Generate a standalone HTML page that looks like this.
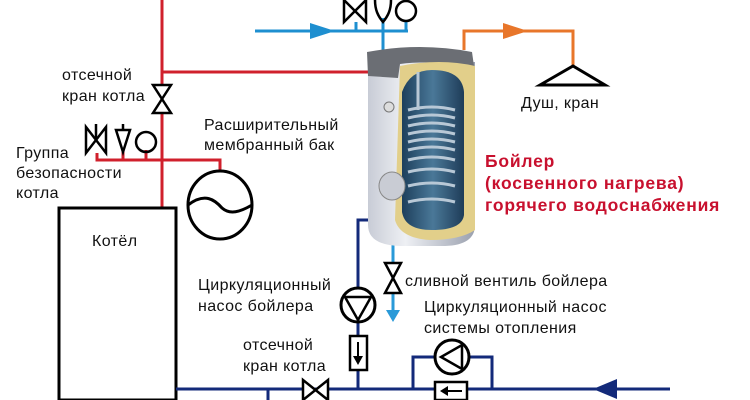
<!DOCTYPE html>
<html><head><meta charset="utf-8"><style>
html,body{margin:0;padding:0;background:#fff;}
svg{display:block;}
text{font-family:"Liberation Sans","DejaVu Sans",sans-serif;font-size:16px;letter-spacing:0.4px;fill:#111;}
.r{fill:#c8102e;font-weight:bold;font-size:17.5px;letter-spacing:0.8px;}
</style></head><body>
<svg width="750" height="400" viewBox="0 0 750 400" xmlns="http://www.w3.org/2000/svg">
<defs>
<linearGradient id="body" x1="0" x2="1"><stop offset="0" stop-color="#c8ccd6"/><stop offset="0.35" stop-color="#eef0f4"/><stop offset="1" stop-color="#9aa0ae"/></linearGradient>
<linearGradient id="tank" x1="0" x2="1"><stop offset="0" stop-color="#1d3f5c"/><stop offset="0.5" stop-color="#4a7898"/><stop offset="1" stop-color="#1e3c58"/></linearGradient>
</defs>
<g stroke="#d0202c" stroke-width="3" fill="none">
<line x1="162" y1="0" x2="162" y2="208"/>
<line x1="162" y1="72" x2="370" y2="72"/>
<polyline points="97,153 97,160 220,160 220,170"/>
<line x1="123" y1="150" x2="123" y2="160"/>
<line x1="146" y1="150" x2="146" y2="160"/>
</g>
<polygon points="153,85 171,85 153,113 171,113" fill="#fff" stroke="#000" stroke-width="2.5"/>
<g stroke="#000" stroke-width="2.5" fill="none">
<polygon points="86,127 86,153 106,127 106,153" fill="#fff"/>
<line x1="96" y1="124" x2="96" y2="140"/>
<path d="M116,130 L130,130 L123,152 Z"/><line x1="123" y1="124" x2="123" y2="130"/>
<circle cx="146" cy="142" r="10"/>
</g>
<g stroke="#000" stroke-width="3" fill="#fff">
<ellipse cx="220" cy="205" rx="32" ry="34"/>
<path d="M188,205 C205,192 215,200 222,208 C230,215 240,212 252,205" fill="none"/>
</g>
<rect x="59" y="208" width="117" height="192" fill="#fff" stroke="#000" stroke-width="3"/>
<text x="92" y="246">Котёл</text>
<g stroke="#1e8fd0" stroke-width="3" fill="none">
<line x1="255" y1="31" x2="408" y2="31"/>
<line x1="383" y1="18" x2="383" y2="50"/>
<line x1="356" y1="22" x2="356" y2="31"/>
<line x1="406" y1="22" x2="406" y2="31"/>
</g>
<polygon points="310,23 335,31 310,39" fill="#1e8fd0"/>
<g stroke="#000" stroke-width="2.5" fill="none">
<polygon points="344,0 344,22 366,0 366,22" fill="#fff"/>
<path d="M375,0 C375,10 378,16 383,22 C388,16 391,10 391,0"/>
<circle cx="406" cy="11" r="10"/>
</g>
<polyline points="464,50 464,31 573,31 573,66" stroke="#e8762a" stroke-width="3" fill="none"/>
<polygon points="503,23 528,31 503,39" fill="#e8762a"/>
<polygon points="540,85 573,66 605,85" fill="none" stroke="#000" stroke-width="3"/>
<text x="521" y="108">Душ, кран</text>
<g stroke="#132a7a" stroke-width="3" fill="none">
<polyline points="370,220 358,220 358,389"/>
<line x1="176" y1="389" x2="670" y2="389"/>
<line x1="268" y1="389" x2="268" y2="400"/>
<polyline points="413,389 413,357 492,357 492,389"/>
</g>
<polygon points="593,389 617,379 617,399" fill="#132a7a"/>
<line x1="393" y1="245" x2="393" y2="312" stroke="#2a9ad8" stroke-width="3"/>
<polygon points="386,310 400,310 393,322" fill="#2a9ad8"/>
<polygon points="385,263 401,263 385,293 401,293" fill="#fff" stroke="#000" stroke-width="2.5"/>
<circle cx="358" cy="305" r="17" fill="#fff" stroke="#000" stroke-width="3"/>
<polygon points="345,297 371,297 358,320" fill="none" stroke="#000" stroke-width="2.5"/>
<rect x="350" y="336" width="17" height="34" fill="#fff" stroke="#000" stroke-width="2.5"/>
<line x1="358" y1="342" x2="358" y2="358" stroke="#000" stroke-width="2"/>
<polygon points="353,356 363,356 358,365" fill="#000"/>
<polygon points="303,380 303,400 328,380 328,400" fill="#fff" stroke="#000" stroke-width="2.5"/>
<circle cx="452" cy="357" r="17" fill="#fff" stroke="#000" stroke-width="3"/>
<polygon points="462,345 462,369 441,357" fill="none" stroke="#000" stroke-width="2.5"/>
<rect x="435" y="382" width="32" height="18" fill="#fff" stroke="#000" stroke-width="2.5"/>
<line x1="445" y1="391" x2="462" y2="391" stroke="#000" stroke-width="2"/>
<polygon points="440,391 448,386 448,396" fill="#000"/>
<path d="M368,62 L368,225 Q368,245 400,246 L445,246 Q475,245 475,225 L475,62 Z" fill="url(#body)"/>
<path d="M367,52 Q420,42 472,52 L474,66 Q430,60 400,64 L398,78 L368,76 Z" fill="#6b6e74"/>
<path d="M400,66 Q440,58 475,66 L475,230 Q460,240 430,240 Q400,238 395,220 Z" fill="#e2cf8a"/>
<path d="M402,92 Q410,70 432,70 Q462,70 464,92 L464,215 Q462,230 432,230 Q405,230 402,212 Z" fill="url(#tank)"/>
<g stroke="#b8c8d6" stroke-width="3" fill="none">
<line x1="418" y1="72" x2="418" y2="110"/>
<path d="M408,110 Q432,104 455,110"/><path d="M408,118 Q432,112 455,118"/><path d="M408,126 Q432,120 455,126"/><path d="M408,134 Q432,128 455,134"/><path d="M408,142 Q432,136 455,142"/><path d="M408,150 Q432,144 455,150"/><path d="M408,160 Q432,154 455,160"/><path d="M408,172 Q432,166 455,172"/><path d="M408,186 Q432,180 455,186"/><path d="M408,202 Q432,196 455,202"/>
</g>
<ellipse cx="392" cy="186" rx="13" ry="14" fill="#c9ccd4" stroke="#888" stroke-width="1"/>
<circle cx="389" cy="107" r="5" fill="#ddd" stroke="#777"/>
<text x="62" y="80">отсечной</text>
<text x="62" y="101">кран котла</text>
<text x="16" y="158">Группа</text>
<text x="16" y="178">безопасности</text>
<text x="16" y="198">котла</text>
<text x="204" y="130">Расширительный</text>
<text x="204" y="150">мембранный бак</text>
<text class="r" x="485" y="167">Бойлер</text>
<text class="r" x="485" y="189">(косвенного нагрева)</text>
<text class="r" x="485" y="211">горячего водоснабжения</text>
<text x="198" y="290">Циркуляционный</text>
<text x="198" y="311">насос бойлера</text>
<text x="405" y="286">сливной вентиль бойлера</text>
<text x="424" y="312">Циркуляционный насос</text>
<text x="424" y="333">системы отопления</text>
<text x="243" y="350">отсечной</text>
<text x="243" y="371">кран котла</text>
</svg>
</body></html>
